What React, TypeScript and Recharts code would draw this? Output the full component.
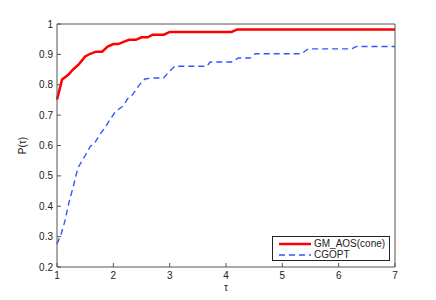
import * as React from "react"
import { LineChart, Line, XAxis, YAxis } from "recharts"

// tau values and performance profile P(tau)
const gmTau = [1, 1.09, 1.2, 1.29, 1.39, 1.5, 1.59, 1.69, 1.8, 1.9, 2.0, 2.09, 2.18, 2.28, 2.4, 2.5, 2.61, 2.7, 2.9, 3.0, 4.1, 4.2, 7]
const gmP = [0.751, 0.817, 0.833, 0.851, 0.868, 0.893, 0.902, 0.909, 0.909, 0.926, 0.934, 0.934, 0.941, 0.948, 0.948, 0.956, 0.956, 0.965, 0.965, 0.974, 0.974, 0.982, 0.982]

const cgTau = [1, 1.07, 1.14, 1.21, 1.29, 1.37, 1.44, 1.53, 1.59, 1.67, 1.76, 1.85, 1.94, 2.02, 2.1, 2.18, 2.25, 2.34, 2.41, 2.49, 2.56, 2.68, 2.89, 3.0, 3.09, 3.66, 3.72, 4.1, 4.22, 4.43, 4.52, 5.34, 5.46, 6.23, 6.32, 7]
const cgP = [0.276, 0.307, 0.351, 0.411, 0.466, 0.526, 0.548, 0.576, 0.597, 0.609, 0.636, 0.658, 0.685, 0.707, 0.72, 0.731, 0.753, 0.767, 0.786, 0.806, 0.819, 0.822, 0.822, 0.845, 0.861, 0.861, 0.875, 0.875, 0.888, 0.888, 0.902, 0.902, 0.918, 0.918, 0.926, 0.926]

const seriesNames = ["GM_AOS(cone)", "CGOPT"]
const xTicks = [1, 2, 3, 4, 5, 6, 7]
const yTicks = [0.2, 0.3, 0.4, 0.5, 0.6, 0.7, 0.8, 0.9, 1]

const gmData = gmTau.map((t, i) => ({ tau: t, p: gmP[i] }))
const cgData = cgTau.map((t, i) => ({ tau: t, p: cgP[i] }))

const axisColor = "#555"
const textColor = "#222"
const font = "'Liberation Sans', Arial, sans-serif"
const TICK = 4

const BottomTick = (props: any) => {
  const { x, y, payload } = props
  return (
    <g>
      <line x1={x} y1={y} x2={x} y2={y - TICK} stroke={axisColor} />
      <text x={x} y={y + 12} textAnchor="middle" fontSize={10} fill={textColor}>{payload.value}</text>
    </g>
  )
}
const TopTick = (props: any) => {
  const { x, y } = props
  return <line x1={x} y1={y} x2={x} y2={y + TICK} stroke={axisColor} />
}
const LeftTick = (props: any) => {
  const { x, y, payload } = props
  return (
    <g>
      <line x1={x} y1={y} x2={x + TICK} y2={y} stroke={axisColor} />
      <text x={x - 4} y={y} dy="0.35em" textAnchor="end" fontSize={10} fill={textColor}>{payload.value}</text>
    </g>
  )
}
const RightTick = (props: any) => {
  const { x, y } = props
  return <line x1={x} y1={y} x2={x - TICK} y2={y} stroke={axisColor} />
}

export default function App() {
  return (
    <div style={{ position: "absolute", left: 0, top: 0, width: 436, height: 300, background: "#fff", fontFamily: font }}>
      <LineChart width={436} height={300} margin={{ top: 0, right: 0, bottom: 0, left: 0 }} style={{ fontFamily: font }}>
        <XAxis
          xAxisId="b"
          dataKey="tau"
          type="number"
          domain={[1, 7]}
          ticks={xTicks}
          height={33}
          tickSize={0}
          tickMargin={0}
          tickLine={false}
          tick={<BottomTick />}
          axisLine={{ stroke: axisColor }}
          allowDuplicatedCategory={false}
          label={{ value: "τ", position: "center", dy: 4, fontSize: 10, fill: textColor }}
        />
        <XAxis
          xAxisId="t"
          orientation="top"
          dataKey="tau"
          type="number"
          domain={[1, 7]}
          ticks={xTicks}
          height={24}
          tickSize={0}
          tickMargin={0}
          tickLine={false}
          tick={<TopTick />}
          axisLine={{ stroke: axisColor }}
          allowDuplicatedCategory={false}
        />
        <YAxis
          yAxisId="l"
          type="number"
          domain={[0.2, 1]}
          ticks={yTicks}
          width={57}
          tickSize={0}
          tickMargin={0}
          tickLine={false}
          tick={<LeftTick />}
          axisLine={{ stroke: axisColor }}
          label={{ value: "P(τ)", angle: -90, position: "center", dx: -6, fontSize: 10, fill: textColor }}
        />
        <YAxis
          yAxisId="r"
          orientation="right"
          type="number"
          domain={[0.2, 1]}
          ticks={yTicks}
          width={41}
          tickSize={0}
          tickMargin={0}
          tickLine={false}
          tick={<RightTick />}
          axisLine={{ stroke: axisColor }}
        />
        <Line
          xAxisId="b"
          yAxisId="l"
          data={cgData}
          dataKey="p"
          type="linear"
          stroke="#3355ff"
          strokeWidth={1.4}
          strokeDasharray="6 4"
          dot={false}
          activeDot={false}
          isAnimationActive={false}
          name={seriesNames[1]}
        />
        <Line
          xAxisId="b"
          yAxisId="l"
          data={gmData}
          dataKey="p"
          type="linear"
          stroke="#ff0000"
          strokeWidth={2.5}
          dot={false}
          activeDot={false}
          isAnimationActive={false}
          name={seriesNames[0]}
        />
      </LineChart>
      <div
        style={{
          position: "absolute",
          left: 272,
          top: 236,
          width: 118,
          height: 25,
          border: "1px solid #222",
          background: "#fff",
          fontSize: 10,
          color: textColor,
          boxSizing: "border-box",
        }}
      >
        {seriesNames.map((name, i) => (
          <div key={name} style={{ position: "absolute", left: 6, top: i === 0 ? 1 : 12, height: 11, display: "flex", alignItems: "center" }}>
            <svg width={32} height={6} style={{ marginRight: 3 }}>
              {i === 0 ? (
                <line x1={0} y1={3} x2={32} y2={3} stroke="#ff0000" strokeWidth={2.5} />
              ) : (
                <line x1={0} y1={3} x2={32} y2={3} stroke="#3355ff" strokeWidth={1.4} strokeDasharray="6 4" />
              )}
            </svg>
            <span style={{ lineHeight: "11px" }}>{name}</span>
          </div>
        ))}
      </div>
    </div>
  )
}
